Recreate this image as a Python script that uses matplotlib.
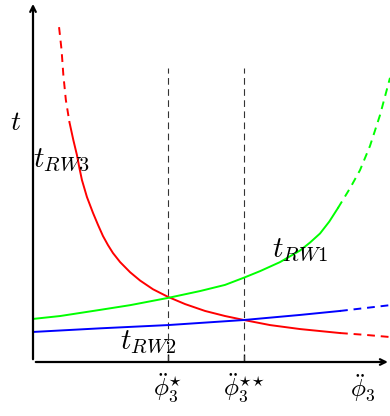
"""Crossing travel-time curves t_RW1, t_RW2, t_RW3 against phi-ddot_3
"""
import matplotlib.pyplot as plt

plt.rcParams['mathtext.fontset'] = 'cm'

# Curves (x in 0..10, y in 0..10)
rw3_x = [0.73, 0.80, 0.85, 0.92, 1.02, 1.13, 1.23, 1.30, 1.37, 1.51, 1.68, 1.82, 1.96, 2.10,
         2.24, 2.44, 2.72, 3.00, 3.36, 3.78, 4.26, 4.82, 5.38, 5.91, 6.64, 7.48, 8.60, 9.30, 10.0]
rw3_y = [9.25, 8.62, 7.93, 7.24, 6.63, 6.13, 5.72, 5.36, 5.03, 4.56, 4.12, 3.79, 3.48, 3.23,
         3.01, 2.76, 2.48, 2.25, 2.01, 1.80, 1.60, 1.41, 1.27, 1.16, 1.02, 0.91, 0.80, 0.75, 0.69]
rw1_x = [0.00, 0.76, 1.88, 2.72, 3.78, 4.68, 5.38, 5.91, 6.36, 6.92, 7.48, 7.76, 8.04, 8.30,
         8.54, 8.88, 9.16, 9.44, 9.72, 10.0]
rw1_y = [1.19, 1.27, 1.44, 1.57, 1.77, 1.96, 2.13, 2.33, 2.51, 2.76, 3.08, 3.30, 3.55, 3.88,
         4.25, 4.80, 5.30, 5.97, 6.82, 7.85]
rw2_x = [0.00, 1.88, 3.78, 5.91, 7.48, 8.60, 10.0]
rw2_y = [0.83, 0.93, 1.02, 1.16, 1.30, 1.41, 1.57]

# index range of the solid part of each curve
rw3_solid = (4, 26)
rw1_solid = (0, 14)
rw2_solid = (0, 5)

star_x = [3.78, 5.91]
star_top = 8.12
tick_x = [3.78, 5.91, 9.24]
tick_labels = [r'$\ddot{\phi}_3^{\star}$', r'$\ddot{\phi}_3^{{\star}{\star}}$', r'$\ddot{\phi}_3$']

fig = plt.figure(figsize=(3.9, 4.16), dpi=100)
ax = fig.add_axes([33 / 390, 54 / 416, 357 / 390, 362 / 416])
ax.set_xlim(0, 10)
ax.set_ylim(0, 10)
for s in ax.spines.values():
    s.set_visible(False)
ax.set_yticks([])
ax.set_xticks(tick_x[:2])
ax.tick_params(axis='x', direction='in', length=6, width=1, labelbottom=False)


def draw(xs, ys, solid, color):
    a, b = solid
    ax.plot(xs[a:b + 1], ys[a:b + 1], color=color, lw=1.4, zorder=3)
    if a > 0:
        ax.plot(xs[:a + 1], ys[:a + 1], color=color, lw=1.4, dashes=(4, 3), zorder=3)
    if b < len(xs) - 1:
        ax.plot(xs[b:], ys[b:], color=color, lw=1.4, dashes=(4, 3), zorder=3)


draw(rw3_x, rw3_y, rw3_solid, '#ff0000')
draw(rw1_x, rw1_y, rw1_solid, '#00ff00')
draw(rw2_x, rw2_y, rw2_solid, '#0000ff')

ax.vlines(star_x, 0, star_top, colors='#333333', lw=0.8, linestyles=(0, (6, 4)), zorder=2)

# axes with arrows
ax.annotate('', xy=(0, 9.97), xytext=(0, 0),
            arrowprops=dict(arrowstyle='->', lw=1.6, color='black'), annotation_clip=False)
ax.annotate('', xy=(10.02, 0), xytext=(0, 0),
            arrowprops=dict(arrowstyle='->', lw=1.6, color='black'), annotation_clip=False)

for x, lab in zip(tick_x, tick_labels):
    ax.text(x, -0.72, lab, fontsize=18, ha='center', va='center', clip_on=False)

ax.text(-0.5, 6.62, '$t$', fontsize=20, ha='center', va='center', clip_on=False)
ax.text(0.0, 5.58, '$t_{RW3}$', fontsize=21, ha='left', va='center')
ax.text(6.69, 3.09, '$t_{RW1}$', fontsize=21, ha='left', va='center')
ax.text(2.44, 0.55, '$t_{RW2}$', fontsize=21, ha='left', va='center')

fig.savefig('out.png', dpi=100)
